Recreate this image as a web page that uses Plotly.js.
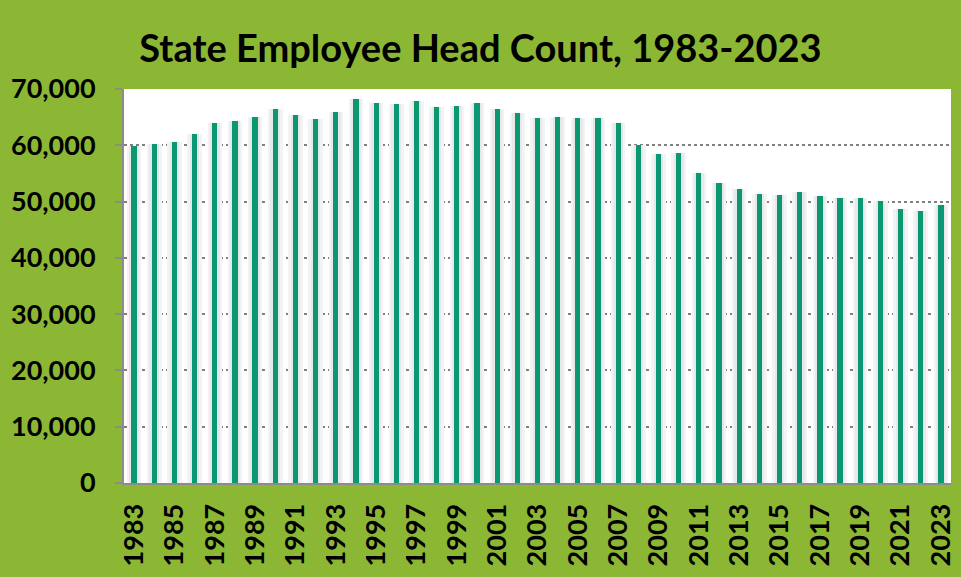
<!DOCTYPE html>
<html>
<head>
<meta charset="utf-8">
<script src="https://cdn.plot.ly/plotly-3.0.1.min.js"></script>
<style>html,body{margin:0;padding:0;background:#8cb734;}#chart{width:961px;height:577px;}</style>
</head>
<body>
<div id="chart"></div>
<script>
const years = ["1983","1984","1985","1986","1987","1988","1989","1990","1991","1992","1993","1994","1995","1996","1997","1998","1999","2000","2001","2002","2003","2004","2005","2006","2007","2008","2009","2010","2011","2012","2013","2014","2015","2016","2017","2018","2019","2020","2021","2022","2023"];
const headCount = [59900,60200,60600,62000,64000,64400,65100,66400,65300,64700,66000,68300,67600,67400,67900,66800,67000,67600,66500,65800,64900,65100,64900,64900,64000,60100,58400,58600,55100,53300,52300,51300,51200,51700,51000,50700,50700,50100,48700,48300,49400];
const tickYears = ["1983","1985","1987","1989","1991","1993","1995","1997","1999","2001","2003","2005","2007","2009","2011","2013","2015","2017","2019","2021","2023"];
const yTicks = [0,10000,20000,30000,40000,50000,60000,70000];
const yTickText = ["0","10,000","20,000","30,000","40,000","50,000","60,000","70,000"];

const glowOuter = {
  type: 'bar', x: years, y: headCount, width: 0.72,
  marker: {color: '#f3f3f3', line: {width: 0}}, hoverinfo: 'skip', showlegend: false
};
const glowInner = {
  type: 'bar', x: years, y: headCount, width: 0.48,
  marker: {color: '#e8e8e8', line: {width: 0}}, hoverinfo: 'skip', showlegend: false
};
const bars = {
  type: 'bar', x: years, y: headCount, width: 0.26,
  marker: {color: '#0a9873', line: {width: 0}}, showlegend: false
};
const layout = {
  width: 961, height: 577,
  paper_bgcolor: '#8cb734', plot_bgcolor: '#ffffff',
  margin: {l: 124, r: 10, t: 89, b: 94},
  barmode: 'overlay',
  title: {text: '<b>State Employee Head Count, 1983-2023</b>', x: 0.5, xanchor: 'center', xref: 'container',
          y: 0.915, yanchor: 'middle', yref: 'container',
          font: {family: 'Lato, "Open Sans", sans-serif', size: 38, color: '#000'}},
  xaxis: {type: 'category', range: [-0.5, 40.5], tickmode: 'array', tickvals: tickYears, ticktext: tickYears,
          tickangle: -90, tickfont: {family: 'Lato, sans-serif', size: 27, color: '#000', weight: 'bold'},
          ticklabelstandoff: 8,
          showline: true, linecolor: '#8c8c8c', linewidth: 2, ticks: '', showgrid: false, fixedrange: true},
  yaxis: {range: [0, 70000], tickmode: 'array', tickvals: yTicks, ticktext: yTickText,
          tickfont: {family: 'Lato, sans-serif', size: 27, color: '#000', weight: 'bold'},
          ticklabelstandoff: 14,
          showline: true, linecolor: '#8c8c8c', linewidth: 2, ticks: 'outside', ticklen: 7, tickwidth: 2, tickcolor: '#8c8c8c',
          showgrid: true, gridcolor: '#7f7f7f', gridwidth: 2, griddash: 'dot', zeroline: false, fixedrange: true},
  bargap: 0
};
Plotly.newPlot('chart', [glowOuter, glowInner, bars], layout, {displayModeBar: false, staticPlot: true});
</script>
</body>
</html>
